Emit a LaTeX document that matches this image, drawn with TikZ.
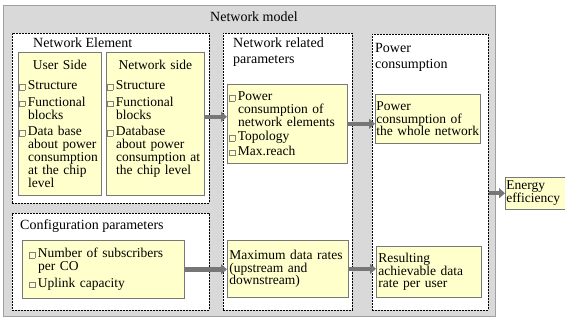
\documentclass[tikz,border=0pt]{standalone}
\usepackage{fontspec}
\setmainfont{Liberation Serif}
\usetikzlibrary{arrows.meta}
\definecolor{modelgray}{RGB}{217,217,217}
\definecolor{modeledge}{RGB}{160,160,160}
\definecolor{noteyellow}{RGB}{255,255,204}
\definecolor{noteedge}{RGB}{120,120,120}
\definecolor{arrowgray}{RGB}{118,118,118}
\newcommand{\bx}{{\color{gray}\fboxsep=0pt\fboxrule=0.3pt\fbox{\rule{0pt}{5.5pt}\rule{5pt}{0pt}}}\hspace{3pt}}
\newcommand{\ind}{\hspace*{8.8pt}}
\newcommand{\notefont}{\rmfamily\fontsize{13.5}{12.8}\selectfont\spaceskip=0.2em plus 0.1em\relax}
\newcommand{\tightfont}{\rmfamily\fontsize{13.5}{11}\selectfont\relax}
\hyphenpenalty=10000

\begin{document}
\begin{tikzpicture}[x=1pt,y=-1pt,
    every node/.style={font=\fontsize{14}{16}\selectfont},
    model/.style={draw=modeledge, fill=modelgray, line width=0.8pt, anchor=north west, inner sep=0},
    group/.style={draw, fill=white, line width=0.7pt, dash pattern=on 2pt off 1pt, anchor=north west, inner sep=0},
    note/.style={draw=noteedge, fill=noteyellow, line width=0.6pt, anchor=north west, inner xsep=1pt, align=left, font=\notefont},
    caption/.style={inner sep=0, align=left},
    blockarrow/.style={draw=arrowgray, line width=4.5pt, -{Triangle[width=10pt,length=6pt]}}]
  \useasboundingbox (0,0) rectangle (565,320);

  % frame
  \node[model, minimum width=492pt, minimum height=311pt] (model) at (3,5) {};
  \node[caption, anchor=base west] (modeltitle) at (210,22) {Network model};

  % dashed groups
  \node[group, minimum width=197pt, minimum height=170pt] (element) at (12,33) {};
  \node[group, minimum width=197pt, minimum height=97pt] (config) at (12,213) {};
  \node[group, minimum width=129pt, minimum height=277pt] (related) at (223,33) {};
  \node[group, minimum width=116pt, minimum height=276pt] (power) at (372,34) {};

  \node[caption, anchor=base west] (elementtitle) at (33,48) {Network Element};
  \node[caption, anchor=base west] (configtitle) at (20,230) {Configuration parameters};
  \node[caption, anchor=north west] (relatedtitle) at (233,38) {Network related\\parameters};
  \node[caption, anchor=north west] (powertitle) at (375,43) {Power\\consumption};

  % yellow notes
  \node[note, minimum width=83pt, minimum height=143pt, text width=81pt] (userside) at (18,52)
    {\centerline{User Side}\\[7pt]
     \bx Structure\\[4pt]
     \bx Functional\\ \ind blocks\\[4pt]
     \bx Data base\\ \ind about power\\ \ind consumption\\ \ind at the chip\\ \ind level};
  \node[note, minimum width=98pt, minimum height=143pt, text width=96pt] (netside) at (106,52)
    {\centerline{Network side}\\[7pt]
     \bx Structure\\[4pt]
     \bx Functional\\ \ind blocks\\[4pt]
     \bx Database\\ \ind about power\\ \ind consumption at\\ \ind the chip level\\ \mbox{}};
  \node[note, minimum width=120pt, minimum height=79pt, text width=116pt, inner xsep=2pt] (relbox) at (227,84)
    {\bx Power\\ \ind consumption of\\ \ind network elements\\[1.5pt]
     \bx Topology\\[2pt]
     \bx Max.reach};
  \node[note, minimum width=105pt, minimum height=49pt, text width=103pt] (powbox) at (375,94)
    {Power\\consumption of\\the whole network};
  \node[note, minimum width=65pt, minimum height=29pt, text width=63pt, font=\tightfont] (energy) at (505,177)
    {Energy\\efficiency};
  \node[note, minimum width=162pt, minimum height=58pt, text width=148pt, inner xsep=7pt] (confbox) at (22,240)
    {\bx Number of subscribers\\ \ind per CO\\[4pt]
     \bx Uplink capacity};
  \node[note, minimum width=121pt, minimum height=57pt, text width=117pt, inner xsep=2pt] (ratebox) at (227,240)
    {Maximum data rates\\(upstream and\\downstream)};
  \node[note, minimum width=105pt, minimum height=51pt, text width=101pt, inner xsep=2pt] (resbox) at (376,246)
    {Resulting\\achievable data\\rate per user};

  % arrows
  \draw[blockarrow] ([yshift=7pt]netside.east) -- ([yshift=7pt]netside.east -| relbox.west);
  \draw[blockarrow] (relbox.east) -- (relbox.east -| powbox.west);
  \draw[blockarrow] (energy.west -| power.east) -- (energy.west);
  \draw[blockarrow] (confbox.east) -- (confbox.east -| ratebox.west);
  \draw[blockarrow] (ratebox.east) -- (ratebox.east -| resbox.west);
\end{tikzpicture}
\end{document}
